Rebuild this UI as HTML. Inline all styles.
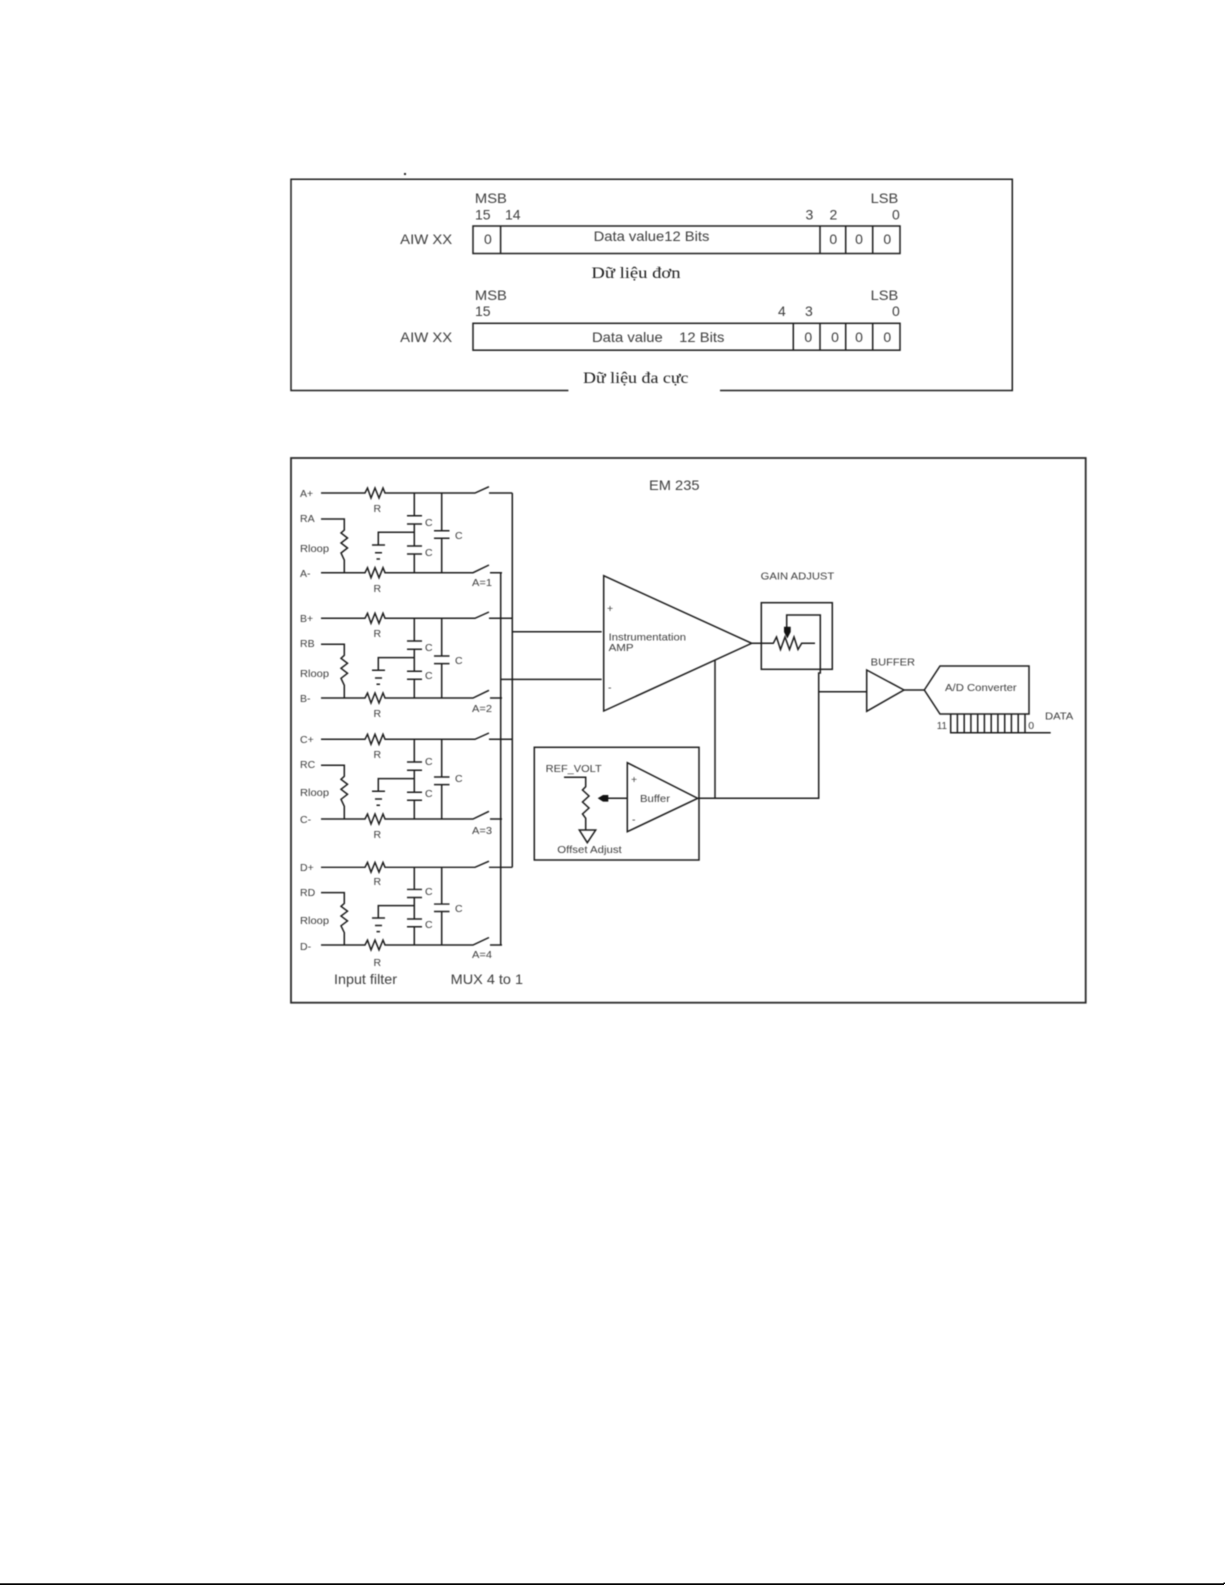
<!DOCTYPE html>
<html>
<head>
<meta charset="utf-8">
<style>
html,body{margin:0;padding:0;background:#fff;}
body{width:1225px;height:1585px;overflow:hidden;position:relative;}
svg{position:absolute;left:0;top:0;}
.s{font-family:"Liberation Sans",sans-serif;fill:#3c3c3c;}
.t{font-family:"Liberation Serif",serif;fill:#1c1c1c;font-size:16px;}
.f10 text,.f10{font-size:10.5px;}
.f14 text,.f14{font-size:14px;}
</style>
</head>
<body>
<svg width="1225" height="1585" viewBox="0 0 1225 1585" xmlns="http://www.w3.org/2000/svg">
<defs>
<g id="blk" fill="none" stroke="#1c1c1c" stroke-width="1.5">
  <path d="M321 0H365L367.500 -5L371 5L375 -5L379 5L383 -5L385 0H475L489 -6.300M489 0H512.300"/>
  <path d="M321 79.700H365L367.500 74.700L371 84.700L375 74.700L379 84.700L383 74.700L385 79.700H473L489 72M490 79.700H502"/>
  <path d="M321 26H344.300V37L341 40L347.500 45L341 50L347.500 55L341 60L344.300 67V79.700"/>
  <path d="M414.300 0V22.700M407 22.700H422M407 31H422M414.300 31V53M407 53H422M407 61H422M414.300 61V79.700"/>
  <path d="M378.300 52V39.300H414.300"/>
  <path d="M372 52H385M375 59.700H382M376.500 66H380"/>
  <path d="M441.700 0V37.700M434 37.700H449.500M434 45.300H449.500M441.700 45.300V79.700"/>
</g>
</defs>

<g style="filter:blur(0.4px)">
<!-- top box -->
<g fill="none" stroke="#1c1c1c" stroke-width="1.5">
  <path d="M568.400 390.500H291V179.300H1012.300V390.500H720"/>
  <rect x="473" y="226" width="427" height="27.500"/>
  <path d="M500.600 226V253.500M820 226V253.500M845.700 226V253.500M872.700 226V253.500"/>
  <rect x="473" y="323.300" width="427" height="26.900"/>
  <path d="M793.300 323.300V350.200M820 323.300V350.200M845.700 323.300V350.200M872.700 323.300V350.200"/>
</g>
<rect x="404" y="173" width="2" height="2" fill="#222"/>

<g class="s f14">
  <text x="474.900" y="203" textLength="32" lengthAdjust="spacingAndGlyphs">MSB</text>
  <text x="870.700" y="203" textLength="27.600" lengthAdjust="spacingAndGlyphs">LSB</text>
  <text x="475" y="219.300">15</text>
  <text x="505" y="219.300">14</text>
  <text x="805.500" y="219.300">3</text>
  <text x="829.500" y="219.300">2</text>
  <text x="892" y="219.300">0</text>
  <text x="400.200" y="244" textLength="52" lengthAdjust="spacingAndGlyphs">AIW XX</text>
  <text x="593.600" y="241" textLength="115.800" lengthAdjust="spacingAndGlyphs">Data value12 Bits</text>
  <text x="484" y="244">0</text>
  <text x="829.400" y="244">0</text>
  <text x="855.100" y="244">0</text>
  <text x="883.400" y="244">0</text>

  <text x="474.900" y="300" textLength="32" lengthAdjust="spacingAndGlyphs">MSB</text>
  <text x="870.700" y="300" textLength="27.600" lengthAdjust="spacingAndGlyphs">LSB</text>
  <text x="475" y="316">15</text>
  <text x="778" y="316">4</text>
  <text x="805" y="316">3</text>
  <text x="892" y="316">0</text>
  <text x="400.200" y="342" textLength="52" lengthAdjust="spacingAndGlyphs">AIW XX</text>
  <text x="592" y="342" textLength="132.400" lengthAdjust="spacingAndGlyphs" xml:space="preserve">Data value    12 Bits</text>
  <text x="804.400" y="342">0</text>
  <text x="831.100" y="342">0</text>
  <text x="855.100" y="342">0</text>
  <text x="883.400" y="342">0</text>
</g>
<text class="t" x="591.400" y="278" textLength="89.200" lengthAdjust="spacingAndGlyphs">Dữ liệu đơn</text>
<text class="t" x="583" y="383" textLength="105.500" lengthAdjust="spacingAndGlyphs">Dữ liệu đa cực</text>

<!-- lower box -->
<rect x="291" y="458" width="794.700" height="544.700" fill="none" stroke="#2a2a2a" stroke-width="1.8"/>
<text class="s" x="649" y="490" font-size="14" textLength="50.500" lengthAdjust="spacingAndGlyphs">EM 235</text>

<!-- input blocks -->
<use href="#blk" transform="translate(0,493)"/>
<use href="#blk" transform="translate(0,618.300)"/>
<use href="#blk" transform="translate(0,739.300)"/>
<use href="#blk" transform="translate(0,867.300) scale(1,0.975)"/>

<g fill="none" stroke="#1c1c1c" stroke-width="1.5">
  <path d="M512.300 493V867.300M500.700 572.700V945"/>
  <path d="M512.300 631.700H601.700M500.700 679.400H601.700"/>
  <!-- instrumentation amp -->
  <path d="M603.700 575.700L751.700 643.300L603.700 711Z"/>
  <!-- gain -->
  <rect x="761.300" y="602.700" width="71" height="66.600"/>
  <path d="M751.700 643.300H773.300L776.500 637L780.500 649.500L785 637L789.500 649.500L794 637L798 649.500L801.700 643.300H815"/>
  <path d="M786.700 628V615H820.300V673H818.700V798.300H697.700"/>
  <path d="M715 660V798.300"/>
  <path d="M818.700 691.700H866.700"/>
  <!-- buffer -->
  <path d="M866.700 670L904 690L866.700 711.300Z"/>
  <path d="M904 690H924.300"/>
  <!-- ADC -->
  <path d="M924.300 690L940 666H1029V714H940Z"/>
  <path d="M950.700 714V732.700H1050.700M957.400 714V732.700M964.200 714V732.700M970.900 714V732.700M977.700 714V732.700M984.400 714V732.700M991.200 714V732.700M997.900 714V732.700M1004.700 714V732.700M1011.400 714V732.700M1018.200 714V732.700M1025 714V732.700"/>
  <!-- offset box -->
  <rect x="534.300" y="747.300" width="164.700" height="112.700"/>
  <path d="M564 777.300H585.700V786.700L582.500 790L589 796L582.500 802L589 808L582.500 814L585.700 818.300V830"/>
  <path d="M579.300 830H595.700L587.300 842.700Z"/>
  <path d="M627.300 762.700L697.700 798.300L627.300 831.700Z"/>
  <path d="M627.300 798.300H606"/>
</g>
<path d="M784 626.700H790.700V632L787.300 638.500L784 632Z" fill="#111"/>
<path d="M597.700 798.300L603 795H608.300V801.600H603Z" fill="#111"/>

<g class="s f10">
  <text x="300" y="497">A+</text>
  <text x="300" y="522">RA</text>
  <text x="300" y="552" textLength="29" lengthAdjust="spacingAndGlyphs">Rloop</text>
  <text x="300" y="577">A-</text>
  <text x="300" y="622">B+</text>
  <text x="300" y="647">RB</text>
  <text x="300" y="677" textLength="29" lengthAdjust="spacingAndGlyphs">Rloop</text>
  <text x="300" y="702">B-</text>
  <text x="300" y="743">C+</text>
  <text x="300" y="768">RC</text>
  <text x="300" y="796" textLength="29" lengthAdjust="spacingAndGlyphs">Rloop</text>
  <text x="300" y="823">C-</text>
  <text x="300" y="871">D+</text>
  <text x="300" y="896">RD</text>
  <text x="300" y="924" textLength="29" lengthAdjust="spacingAndGlyphs">Rloop</text>
  <text x="300" y="950">D-</text>

  <text x="373.500" y="512">R</text><text x="373.500" y="592">R</text>
  <text x="373.500" y="637">R</text><text x="373.500" y="717">R</text>
  <text x="373.500" y="758">R</text><text x="373.500" y="838">R</text>
  <text x="373.500" y="885">R</text><text x="373.500" y="966">R</text>

  <text x="425" y="526">C</text><text x="425" y="556">C</text><text x="455" y="539">C</text>
  <text x="425" y="651">C</text><text x="425" y="679">C</text><text x="455" y="664">C</text>
  <text x="425" y="765">C</text><text x="425" y="797">C</text><text x="455" y="782">C</text>
  <text x="425" y="895">C</text><text x="425" y="928">C</text><text x="455" y="912">C</text>

  <text x="472" y="586" textLength="20" lengthAdjust="spacingAndGlyphs">A=1</text>
  <text x="472" y="712" textLength="20" lengthAdjust="spacingAndGlyphs">A=2</text>
  <text x="472" y="834" textLength="20" lengthAdjust="spacingAndGlyphs">A=3</text>
  <text x="472" y="958" textLength="20" lengthAdjust="spacingAndGlyphs">A=4</text>

  <text x="608.600" y="640.500" textLength="77.400" lengthAdjust="spacingAndGlyphs">Instrumentation</text>
  <text x="608.600" y="651" textLength="25" lengthAdjust="spacingAndGlyphs">AMP</text>
  <text x="607" y="612">+</text>
  <text x="608" y="691">-</text>
  <text x="760.700" y="579.500" textLength="73.600" lengthAdjust="spacingAndGlyphs">GAIN ADJUST</text>
  <text x="870.700" y="665.500" textLength="44.300" lengthAdjust="spacingAndGlyphs">BUFFER</text>
  <text x="945" y="691" textLength="71.700" lengthAdjust="spacingAndGlyphs">A/D Converter</text>
  <text x="936.700" y="729" textLength="10.300" lengthAdjust="spacingAndGlyphs">11</text>
  <text x="1028.300" y="729">0</text>
  <text x="1045" y="719.500" textLength="28.300" lengthAdjust="spacingAndGlyphs">DATA</text>
  <text x="545.700" y="772" textLength="56" lengthAdjust="spacingAndGlyphs">REF_VOLT</text>
  <text x="640" y="802" textLength="30" lengthAdjust="spacingAndGlyphs">Buffer</text>
  <text x="631" y="783">+</text>
  <text x="632" y="823">-</text>
  <text x="557.300" y="853" textLength="64.400" lengthAdjust="spacingAndGlyphs">Offset Adjust</text>
</g>
<g class="s f14">
  <text x="334" y="984" textLength="63" lengthAdjust="spacingAndGlyphs">Input filter</text>
  <text x="450.700" y="984" textLength="72.300" lengthAdjust="spacingAndGlyphs">MUX 4 to 1</text>
</g>
</g>

<!-- page bottom rule -->
<rect x="0" y="1583.300" width="1224" height="1.700" fill="#000"/>
<rect x="1223.500" y="1582.500" width="1.500" height="1.500" fill="#000"/>
</svg>
</body>
</html>
